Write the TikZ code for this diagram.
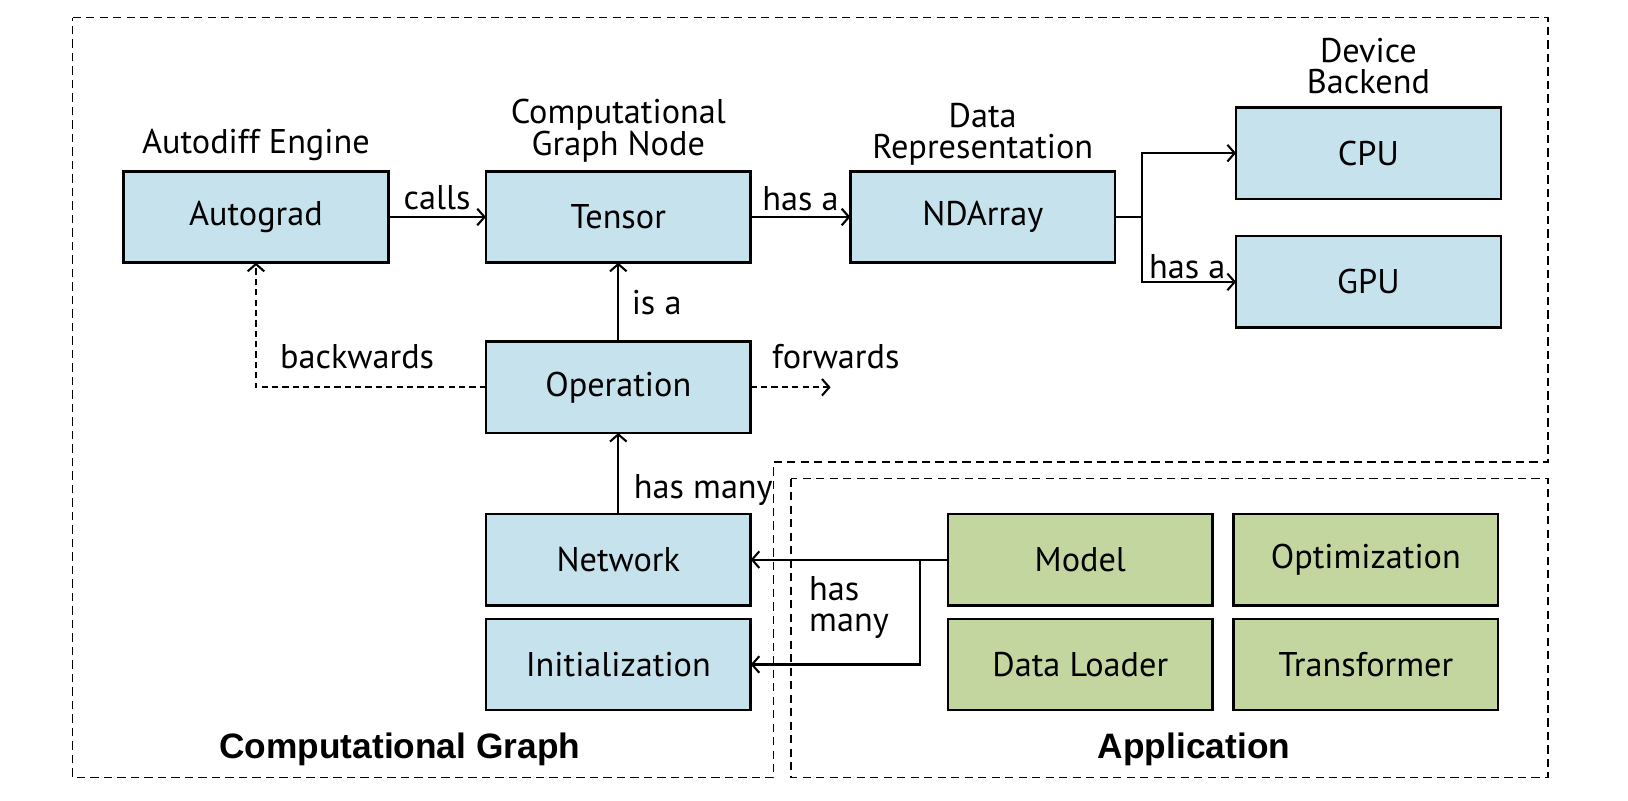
\documentclass[tikz,border=0pt]{standalone}
\usepackage{fontspec}
\setmainfont{PT Sans}
\newfontfamily\titlefont{Liberation Sans}
\usetikzlibrary{positioning, arrows.meta}
\definecolor{boxblue}{HTML}{C6E2EC}
\definecolor{boxgreen}{HTML}{C4D6A0}
\tikzset{
  block/.style={draw, line width=2.4pt, fill=boxblue, minimum width=255pt, minimum height=88pt, inner sep=0pt, outer sep=0pt},
  appblock/.style={block, fill=boxgreen},
  heading/.style={align=center, inner sep=0pt, text depth=0pt},
  link/.style={line width=2pt, -{Straight Barb[length=7pt, width=16pt, line width=2pt]}},
  dashlink/.style={link, dash pattern=on 6pt off 4pt},
  region/.style={line width=1.5pt, dash pattern=on 8pt off 5pt},
  tag/.style={inner sep=5pt},
  grouptitle/.style={font=\titlefont\bfseries\fontsize{34}{36}\selectfont},
}

\begin{document}
\begin{tikzpicture}[x=1pt, y=1pt, font=\fontsize{33}{30}\selectfont]
        \useasboundingbox (0,0) rectangle (1568,-771);

        % dashed groups
        \draw[region] (70,-17) -- (1491,-17) -- (1491,-445) -- (745,-445) -- (745,-749) -- (70,-749) -- cycle;
        \draw[region] (762,-461) rectangle (1491,-749);
        \node[grouptitle] (graph title) at (385,-722) {Computational Graph};
        \node[grouptitle] (app title)   at (1150,-722) {Application};

        \node[block] at (246.5,-209)                (autograd)  {Autograd};
        \node[block, right=94pt of autograd]        (tensor)    {Tensor};
        \node[block, right=96pt of tensor]          (ndarray)   {NDArray};
        \node[block] at (1318,-147.5)               (cpu)       {CPU};
        \node[block, below=36pt of cpu]             (gpu)       {GPU};
        \node[block, below=76pt of tensor]          (operation) {Operation};
        \node[block, below=78pt of operation]       (network)   {Network};
        \node[block, below=13pt of network]         (init)      {Initialization};
        \node[appblock, right=190pt of network]     (model)     {Model};
        \node[appblock, right=20pt of model]        (optim)     {Optimization};
        \node[appblock, below=13pt of model]        (loader)    {Data Loader};
        \node[appblock, right=20pt of loader]       (transf)    {Transformer};

        \node[heading, above=17pt of autograd]      (autograd head) {Autodiff Engine};
        \node[heading, above=15pt of tensor]        (tensor head)   {Computational\\Graph Node};
        \node[heading, above=12pt of ndarray]       (ndarray head)  {Data\\Representation};
        \node[heading, above=13pt of cpu]           (device head)   {Device\\Backend};

        \coordinate[right=26pt of ndarray]          (split);
        \coordinate[right=77pt of operation]        (fwd end);
        \coordinate[left=27pt of model]             (fork);

        \draw[link] (autograd)  -- node[tag, above, inner sep=6pt] {calls} (tensor);
        \draw[link] (tensor)    -- node[tag, above] {has a} (ndarray);
        \draw[link] (ndarray)   -- (split) |- (cpu);
        \draw[link] (split)     |- node[tag, above, pos=0.74, inner sep=2pt] {has a} (gpu);
        \draw[link] (operation) -- node[tag, right, inner sep=12pt] {is a} (tensor);
        \draw[link] (network)   -- node[tag, right, pos=0.3, inner sep=14pt] {has many} (operation);
        \draw[dashlink] (operation) -| node[tag, above, pos=0.28, inner sep=17pt] {backwards} (autograd);
        \draw[dashlink] (operation) -- node[tag, above, pos=1, xshift=5pt, inner sep=17pt] {forwards} (fwd end);
        \draw[link] (model)     -- (network);
        \draw[link] (fork)      |- node[tag, left=24pt, pos=0.23, align=left] {has\\many} (init);
    \end{tikzpicture}
\end{document}
